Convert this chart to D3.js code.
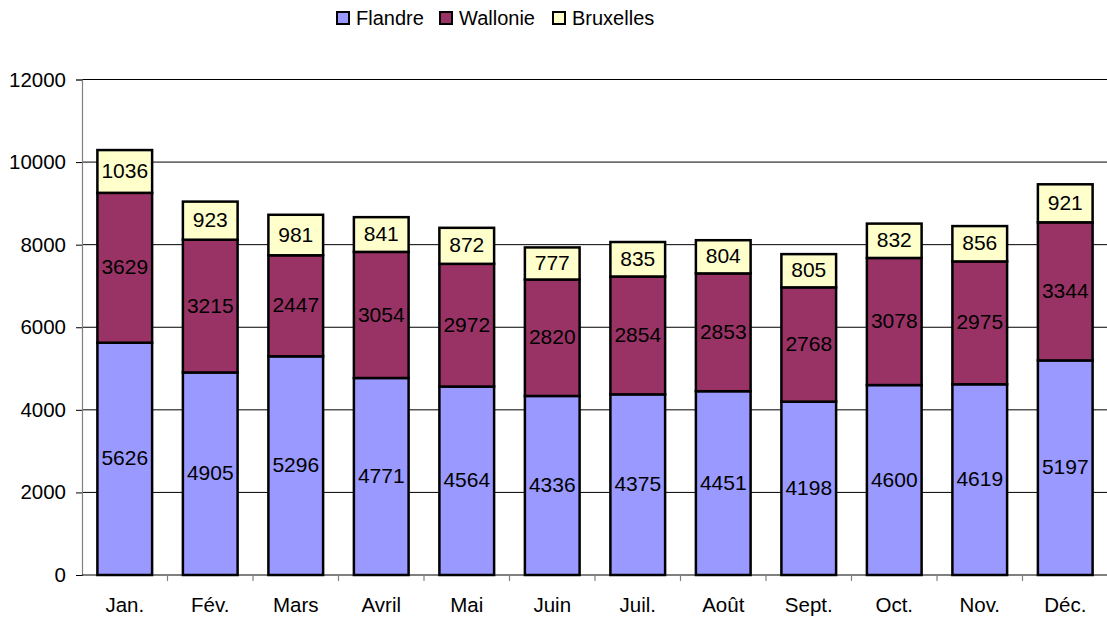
<!DOCTYPE html>
<meta charset="utf-8">
<style>
body { margin: 0; background: #fff; }
text { font-family: "Liberation Sans", Arial, sans-serif; font-size: 20px; fill: #000; }
.grid line { stroke: #000; stroke-width: 1px; }
.val { font-size: 21px; }
</style>
<div id="chart"></div>
<script src="https://d3js.org/d3.v7.min.js"></script>
<script>
var months = ["Jan.", "Fév.", "Mars", "Avril", "Mai", "Juin", "Juil.", "Août", "Sept.", "Oct.", "Nov.", "Déc."];
var flandre = [5626, 4905, 5296, 4771, 4564, 4336, 4375, 4451, 4198, 4600, 4619, 5197];
var wallonie = [3629, 3215, 2447, 3054, 2972, 2820, 2854, 2853, 2768, 3078, 2975, 3344];
var bruxelles = [1036, 923, 981, 841, 872, 777, 835, 804, 805, 832, 856, 921];
var seriesNames = ["Flandre", "Wallonie", "Bruxelles"];
var colors = ["#9999ff", "#993366", "#ffffcc"];
var yTicks = [0, 2000, 4000, 6000, 8000, 10000, 12000];

var W = 1107, H = 617;
var margin = {top: 79.5, right: -1, bottom: 42, left: 82};
var width = W - margin.left - margin.right,
    height = H - margin.top - margin.bottom;

// build rows for the stack
var rows = months.map(function(m, i) {
  return {month: m, Flandre: flandre[i], Wallonie: wallonie[i], Bruxelles: bruxelles[i]};
});
var stacked = d3.stack().keys(seriesNames)(rows);

var x = d3.scaleBand().domain(months).range([0, width]).padding(0);
var y = d3.scaleLinear().domain([0, 12000]).range([height, 0]);
var barW = x.bandwidth() * 0.64;

var svg = d3.select("#chart").append("svg")
    .attr("width", W)
    .attr("height", H);
var g = svg.append("g")
    .attr("transform", "translate(" + margin.left + "," + margin.top + ")");

// horizontal grid lines
g.append("g").attr("class", "grid")
  .selectAll("line")
  .data(yTicks.slice(1))
  .enter().append("line")
    .attr("x1", 0).attr("x2", width)
    .attr("y1", function(d) { return y(d); })
    .attr("y2", function(d) { return y(d); });

// y axis
var yAxis = g.append("g")
    .call(d3.axisLeft(y).tickValues(yTicks).tickSize(6).tickPadding(10).tickFormat(d3.format("d")));
yAxis.select(".domain").attr("stroke", "#808080").attr("stroke-width", 1.2);
yAxis.selectAll(".tick line").attr("stroke", "#000");
yAxis.selectAll("text").style("font-size", "20.5px").attr("fill", "#000");

// x axis: ticks between categories
var xAxisG = g.append("g").attr("transform", "translate(0," + height + ")");
xAxisG.append("line").attr("x1", 0).attr("x2", width).attr("stroke", "#000");
xAxisG.selectAll(".xt")
  .data(months.slice(1))
  .enter().append("line")
    .attr("x1", function(d) { return x(d); })
    .attr("x2", function(d) { return x(d); })
    .attr("y1", 0).attr("y2", 6)
    .attr("stroke", "#808080").attr("stroke-width", 1.2);
xAxisG.selectAll(".xl")
  .data(months)
  .enter().append("text")
    .attr("text-anchor", "middle")
    .attr("x", function(d) { return x(d) + x.bandwidth() / 2; })
    .attr("y", 37)
    .style("font-size", "20.5px")
    .text(function(d) { return d; });

// bars
var layers = g.selectAll(".layer")
  .data(stacked)
  .enter().append("g")
    .attr("fill", function(d, i) { return colors[i]; });

layers.selectAll("rect")
  .data(function(d) { return d; })
  .enter().append("rect")
    .attr("x", function(d) { return x(d.data.month) + (x.bandwidth() - barW) / 2; })
    .attr("width", barW)
    .attr("y", function(d) { return y(d[1]); })
    .attr("height", function(d) { return y(d[0]) - y(d[1]); })
    .attr("stroke", "#000")
    .attr("stroke-width", 2.5);

// value labels
layers.selectAll(".lbl")
  .data(function(d) { return d.map(function(v) { return {v: v, key: d.key}; }); })
  .enter().append("text")
    .attr("class", "val")
    .attr("text-anchor", "middle")
    .attr("dy", "0.36em")
    .attr("x", function(d) { return x(d.v.data.month) + x.bandwidth() / 2; })
    .attr("y", function(d) { return (y(d.v[0]) + y(d.v[1])) / 2 - 1; })
    .attr("fill", "#000")
    .text(function(d) { return d.v.data[d.key]; });

// legend
var legendX = [337, 440, 553];
var legend = svg.append("g");
seriesNames.forEach(function(name, i) {
  legend.append("rect")
    .attr("x", legendX[i]).attr("y", 12)
    .attr("width", 12).attr("height", 12)
    .attr("fill", colors[i])
    .attr("stroke", "#000").attr("stroke-width", 2);
  legend.append("text")
    .attr("x", legendX[i] + 19).attr("y", 25)
    .text(name);
});
</script>
